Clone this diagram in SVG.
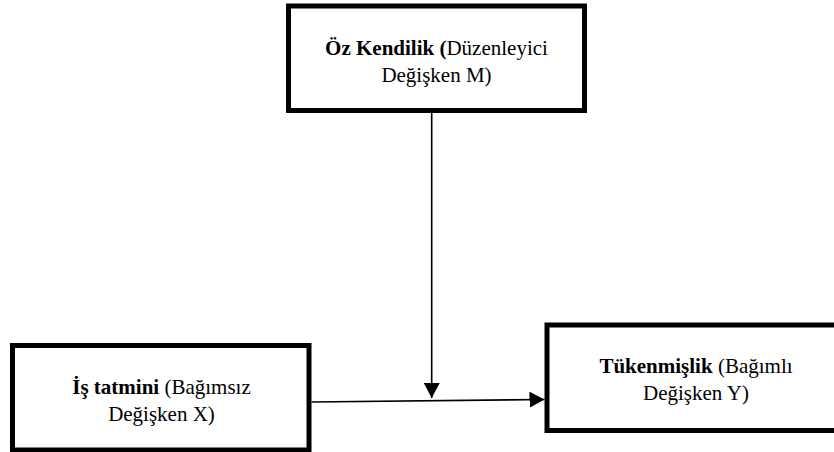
<svg xmlns="http://www.w3.org/2000/svg" width="834" height="452" viewBox="0 0 834 452">
  <defs>
    <style>
      .box { fill: #ffffff; stroke: #000000; stroke-width: 5; }
      .lbl { font-family: "Liberation Serif", "Times New Roman", serif; font-size: 21px; fill: #000000; text-anchor: middle; }
      .b { font-weight: bold; }
      .conn { stroke: #000000; stroke-width: 1.6; fill: none; marker-end: url(#arrow); }
    </style>
    <marker id="arrow" viewBox="0 0 15 16" refX="15" refY="8" markerWidth="15" markerHeight="16" markerUnits="userSpaceOnUse" orient="auto">
      <path d="M0,0 L15,8 L0,16 z" fill="#000000"/>
    </marker>
  </defs>
  <rect width="834" height="452" fill="#ffffff"/>

  <g id="node-oz-kendilik">
    <rect class="box" x="288.5" y="6" width="296" height="104.5"/>
    <text class="lbl" x="436.5" y="55"><tspan class="b">Öz Kendilik (</tspan>Düzenleyici</text>
    <text class="lbl" x="436.5" y="82">Değişken M)</text>
  </g>

  <g id="node-is-tatmini">
    <rect class="box" x="12.5" y="345.5" width="296.5" height="104.5"/>
    <text class="lbl" x="161.5" y="394"><tspan class="b">İş tatmini</tspan> (Bağımsız</text>
    <text class="lbl" x="161.5" y="421">Değişken X)</text>
  </g>

  <g id="node-tukenmislik">
    <rect class="box" x="547" y="325" width="298" height="105.5"/>
    <text class="lbl" x="696" y="373"><tspan class="b">Tükenmişlik</tspan> (Bağımlı</text>
    <text class="lbl" x="696" y="400">Değişken Y)</text>
  </g>

  <g id="connectors">
    <line class="conn" x1="431.7" y1="113" x2="431.7" y2="398"/>
    <line class="conn" x1="311.5" y1="402" x2="544.5" y2="399.5"/>
  </g>
</svg>
